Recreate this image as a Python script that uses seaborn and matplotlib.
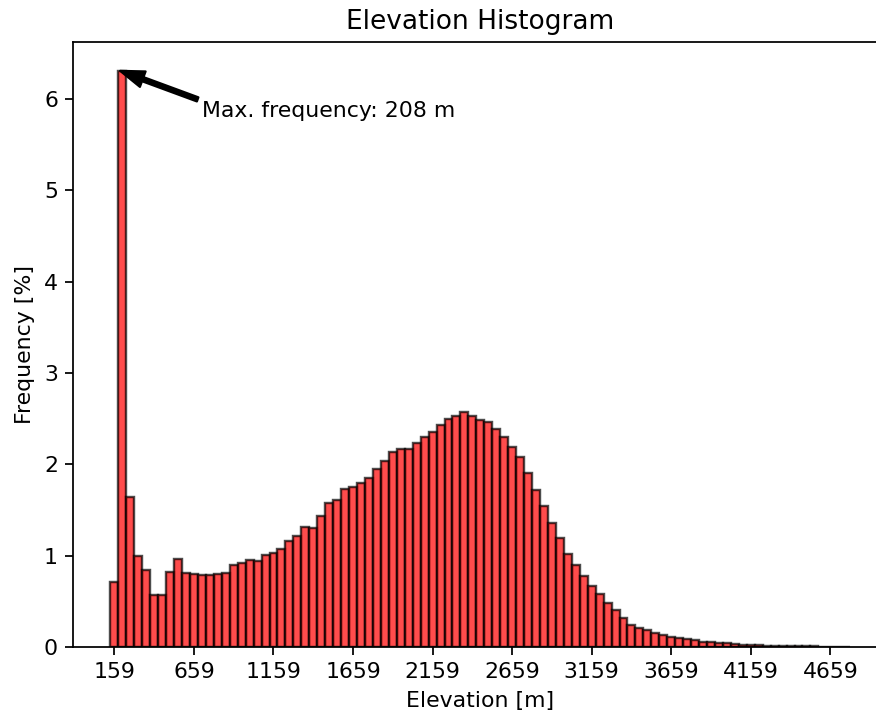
import numpy as np
import pandas as pd
import matplotlib
matplotlib.use("Agg")
import matplotlib.pyplot as plt
import seaborn as sns

# histogram: 50 m bins centred on 159 + 50k
bin_width = 50
first_center = 159
freq = [0.715, 6.31, 1.646, 0.997, 0.843, 0.566, 0.57, 0.82, 0.96, 0.814,
        0.805, 0.787, 0.787, 0.80, 0.815, 0.898, 0.918, 0.953, 0.945, 1.008,
        1.035, 1.072, 1.165, 1.216, 1.311, 1.305, 1.435, 1.578, 1.615, 1.727,
        1.747, 1.80, 1.85, 1.946, 2.034, 2.139, 2.172, 2.172, 2.231, 2.297,
        2.355, 2.432, 2.494, 2.53, 2.577, 2.53, 2.49, 2.468, 2.388, 2.297,
        2.194, 2.078, 1.911, 1.72, 1.544, 1.362, 1.195, 1.015, 0.897, 0.779,
        0.668, 0.577, 0.487, 0.405, 0.321, 0.241, 0.209, 0.186, 0.158, 0.128,
        0.113, 0.10, 0.088, 0.072, 0.06, 0.05, 0.045, 0.04, 0.033, 0.026,
        0.022, 0.018, 0.015, 0.012, 0.01, 0.009, 0.008, 0.007, 0.006, 0.005,
        0.005, 0.004, 0.004]
xtick_values = [159, 659, 1159, 1659, 2159, 2659, 3159, 3659, 4159, 4659]
max_label = "Max. frequency: 208 m"

centers = first_center + bin_width * np.arange(len(freq))
lo = centers[0] - bin_width / 2
hi = centers[-1] + bin_width / 2
df = pd.DataFrame({"elevation": centers, "frequency": freq})

dpi = 158
fig = plt.figure(figsize=(876 / dpi, 717 / dpi), dpi=dpi)
# right edge of the axes falls just outside the picture, as in the reference
ax = fig.add_axes([0.0838, 0.0976, 0.929, 0.8438])

sns.histplot(data=df, x="elevation", weights="frequency",
             binwidth=bin_width, binrange=(lo, hi),
             color="red", alpha=0.7, edgecolor=(0, 0, 0, 0.7),
             linewidth=1.1, ax=ax)

ax.set_xticks(xtick_values)
ax.set_title("Elevation Histogram")
ax.set_xlabel("Elevation [m]")
ax.set_ylabel("Frequency [%]")

i_max = int(np.argmax(freq))
ax.annotate(max_label,
            xy=(centers[i_max] - 14, freq[i_max]),
            xytext=(710, 5.87), ha="left", va="center",
            arrowprops=dict(facecolor="black", width=2, headwidth=7.5,
                            headlength=11, shrink=0))

fig.savefig("out.png", dpi=dpi)
